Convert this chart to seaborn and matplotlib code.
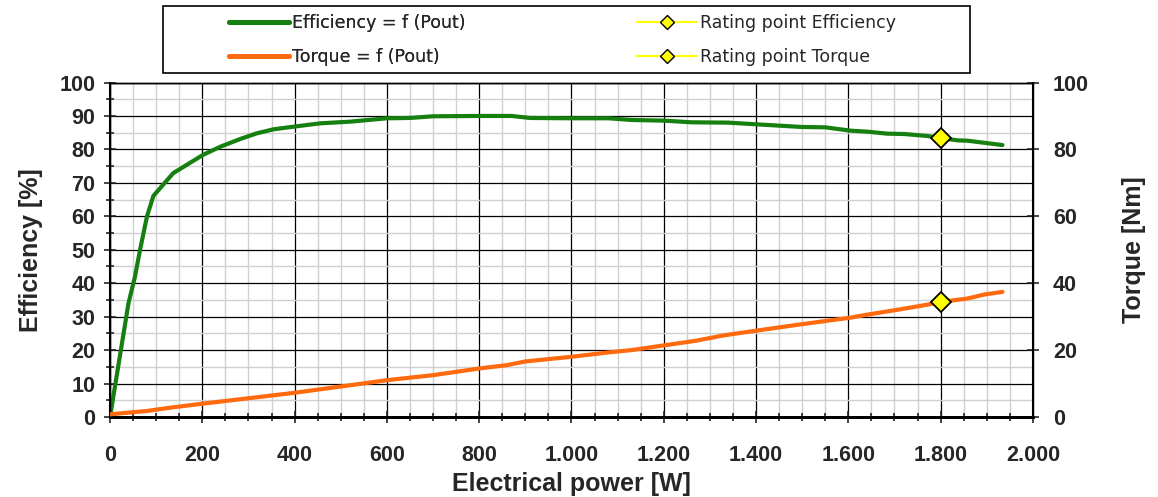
import numpy as np
import pandas as pd
import seaborn as sns
import matplotlib.pyplot as plt
from matplotlib.ticker import MultipleLocator, FuncFormatter
from matplotlib.lines import Line2D
from matplotlib.patches import Rectangle

# efficiency curve (left axis)
eff_power = [0, 40, 54, 65, 80, 94, 137, 202, 239, 282, 318, 354, 398, 456, 521, 600, 650,
             700, 800, 870, 910, 1000, 1080, 1130, 1200, 1260, 1340, 1400, 1500, 1550,
             1605, 1641, 1685, 1721, 1772, 1800, 1837, 1858, 1934]
eff_values = [0, 34.0, 41.9, 49.9, 59.9, 66.1, 72.9, 78.4, 80.8, 83.1, 84.8, 86.0, 86.8, 87.8,
              88.3, 89.3, 89.4, 89.9, 90.0, 90.0, 89.4, 89.3, 89.3, 88.8, 88.6, 88.1, 88.0,
              87.5, 86.7, 86.6, 85.6, 85.3, 84.7, 84.6, 84.0, 83.4, 82.7, 82.6, 81.3]

# torque curve (right axis)
torque_power = [0, 80, 90, 116, 137, 202, 300, 398, 521, 600, 700, 800, 860, 900, 1000,
                1080, 1130, 1200, 1270, 1330, 1400, 1497, 1605, 1641, 1713, 1772, 1800,
                1858, 1894, 1934]
torque_values = [0.8, 1.8, 2.0, 2.5, 2.9, 4.0, 5.6, 7.2, 9.5, 11.0, 12.5, 14.5, 15.5, 16.6,
                 18.0, 19.3, 20.0, 21.4, 22.8, 24.4, 25.8, 27.7, 29.7, 30.6, 32.2, 33.6,
                 34.4, 35.4, 36.6, 37.4]

# rating points
rating_power = [1800]
rating_eff = [83.5]
rating_torque = [34.5]

eff_df = pd.DataFrame({"power": eff_power, "value": eff_values})
torque_df = pd.DataFrame({"power": torque_power, "value": torque_values})

sns.set_theme(style="white")
plt.rcParams['font.family'] = ['Liberation Sans', 'DejaVu Sans']

fig, ax = plt.subplots(figsize=(11.58, 4.97), dpi=100)
fig.subplots_adjust(left=0.095, right=0.892, top=0.834, bottom=0.161)
ax2 = ax.twinx()

green = "#158010"
orange = "#ff6a0e"

sns.lineplot(eff_df, x="power", y="value", color=green, lw=3.0, ax=ax, zorder=4)
sns.lineplot(torque_df, x="power", y="value", color=orange, lw=3.0, ax=ax2, zorder=4)
ax.plot(rating_power, rating_eff, marker="D", ms=10, mfc="#ffff00", mec="black",
        mew=1.3, color="#ffff00", zorder=6, clip_on=False)
ax2.plot(rating_power, rating_torque, marker="D", ms=10, mfc="#ffff00", mec="black",
         mew=1.3, color="#ffff00", zorder=6, clip_on=False)

ax.set_xlim(0, 2000)
ax.set_ylim(0, 100)
ax2.set_ylim(0, 100)

ax.xaxis.set_major_locator(MultipleLocator(200))
ax.xaxis.set_minor_locator(MultipleLocator(50))
ax.yaxis.set_major_locator(MultipleLocator(10))
ax.yaxis.set_minor_locator(MultipleLocator(5))
ax2.yaxis.set_major_locator(MultipleLocator(20))
ax.xaxis.set_major_formatter(FuncFormatter(lambda v, p: f"{int(v):,}".replace(",", ".")))

ax.grid(which="minor", color="#d0d0d0", lw=1.0)
ax.grid(which="major", color="black", lw=0.9)
ax.set_axisbelow(True)

ax.tick_params(axis="x", which="major", direction="inout", length=9, width=1.2,
               pad=16, labelsize=15.5, bottom=True)
ax.tick_params(axis="x", which="minor", direction="inout", length=6, width=1.2, bottom=True)
ax.tick_params(axis="y", which="major", direction="inout", length=9, width=1.2,
               pad=6, labelsize=15.5, left=True)
ax.tick_params(axis="y", which="minor", direction="inout", length=6, width=1.2, left=True)
ax2.tick_params(axis="y", direction="inout", length=9, width=1.2, pad=10,
                labelsize=15.5, right=True)
for t in ax.get_xticklabels() + ax.get_yticklabels() + ax2.get_yticklabels():
    t.set_fontweight("bold")

for a in (ax, ax2):
    for s in a.spines.values():
        s.set_color("black")
        s.set_linewidth(1.0)
ax.spines["bottom"].set_linewidth(2)
ax.spines["left"].set_linewidth(1.5)
ax2.spines["right"].set_linewidth(1.5)
ax2.spines["bottom"].set_linewidth(2)

ax.set_xlabel("Electrical power [W]", fontsize=18, fontweight="bold", labelpad=4)
ax.set_ylabel("Efficiency [%]", fontsize=18, fontweight="bold", labelpad=12)
ax2.set_ylabel("Torque [Nm]", fontsize=18, fontweight="bold", labelpad=24)

line_handles = [Line2D([], [], color=green, lw=3.5), Line2D([], [], color=orange, lw=3.5)]
point_handles = [
    Line2D([], [], color="#ffff00", lw=1.5, marker="D", ms=7, mfc="#ffff00", mec="black"),
    Line2D([], [], color="#ffff00", lw=1.5, marker="D", ms=7, mfc="#ffff00", mec="black"),
]
leg_kw = dict(loc="upper left", frameon=False, handlelength=3.45,
              handletextpad=0.2, labelspacing=0.95, borderpad=0, borderaxespad=0,
              prop={"family": "DejaVu Sans", "size": 12.5})
leg1 = fig.legend(line_handles, ["Efficiency = f (Pout)", "Torque = f (Pout)"],
                  bbox_to_anchor=(229 / 1158, 1 - 14 / 497), **leg_kw)
fig.legend(point_handles, ["Rating point Efficiency", "Rating point Torque"],
           bbox_to_anchor=(637 / 1158, 1 - 14 / 497), **leg_kw)
fig.add_artist(leg1)
fig.patches.append(Rectangle((163 / 1158, 1 - 73 / 497), 807 / 1158, 67 / 497,
                             transform=fig.transFigure, fill=False, ec="black", lw=1.2))

fig.savefig("out.png", dpi=100)
